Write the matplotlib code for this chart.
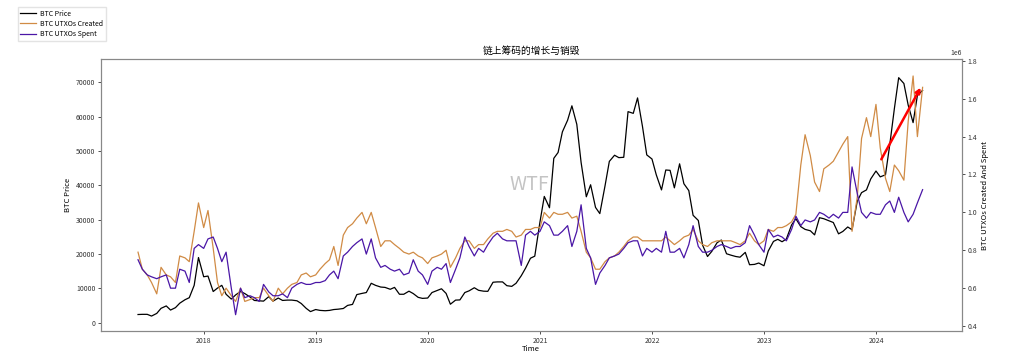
import numpy as np
import pandas as pd
import matplotlib
matplotlib.use("Agg")
import matplotlib.pyplot as plt
import matplotlib.dates as mdates

plt.rcParams['font.family'] = ['Noto Sans CJK SC', 'DejaVu Sans']
plt.rcParams['axes.unicode_minus'] = False

# semi-monthly samples, 2017-06-01 .. 2024-06-01
dates = pd.date_range('2017-06-01', '2024-06-01', freq='SMS')

btc_price = [
    # 2017
    2400, 2450, 2450, 1950, 2720, 4200, 4900, 3700, 4400, 5700, 6700, 7300, 10900, 19000,
    # 2018
    13400, 13600, 9100, 10100, 10900, 8300, 6900, 8100, 9100, 8500, 7500, 6500,
    6400, 6300, 7600, 6300, 7200, 6500, 6600, 6600, 6400, 5600, 4200, 3250,
    # 2019
    3850, 3600, 3500, 3600, 3850, 3950, 4150, 5050, 5350, 8200, 8550, 8800,
    11500, 10900, 10400, 10300, 9750, 10300, 8300, 8300, 9200, 8500, 7400, 7100,
    # 2020
    7200, 8800, 9400, 9900, 8550, 5400, 6600, 6650, 8800, 9300, 10200, 9450,
    9200, 9150, 11800, 11900, 11900, 10800, 10600, 11500, 13700, 15900, 18800, 19400,
    # 2021
    29400, 36800, 33500, 47900, 49600, 55600, 59000, 63200, 57800, 46700, 36700, 40200,
    33600, 31800, 39900, 47000, 48800, 48100, 48200, 61500, 61000, 65500, 57200, 48900,
    # 2022
    47700, 43100, 38700, 44500, 44400, 39300, 46300, 40500, 38500, 31300, 29800, 22600,
    19300, 20800, 23300, 24100, 20100, 19700, 19300, 19100, 20500, 16900, 17000, 17400,
    # 2023
    16600, 20900, 23700, 24300, 23600, 24400, 28500, 30300, 28000, 27200, 26800, 25600,
    30600, 30300, 29700, 29200, 25900, 26600, 27900, 27100, 35400, 37900, 38700, 41900,
    # 2024
    44200, 42500, 43100, 51900, 62400, 71400, 69700, 63400, 58300, 66200, 67700,
]

# UTXOs created, in millions
utxo_created = [
    # 2017
    0.79, 0.70, 0.67, 0.63, 0.57, 0.71, 0.67, 0.66, 0.63, 0.77, 0.76, 0.74, 0.90, 1.05,
    # 2018
    0.92, 1.01, 0.81, 0.63, 0.56, 0.60, 0.56, 0.53, 0.60, 0.53, 0.54, 0.55,
    0.55, 0.60, 0.56, 0.53, 0.60, 0.57, 0.60, 0.62, 0.63, 0.67, 0.68, 0.66,
    # 2019
    0.67, 0.70, 0.73, 0.75, 0.82, 0.72, 0.88, 0.92, 0.94, 0.97, 1.00, 0.94,
    1.00, 0.92, 0.82, 0.85, 0.85, 0.83, 0.81, 0.79, 0.78, 0.79, 0.77, 0.76,
    # 2020
    0.73, 0.76, 0.77, 0.78, 0.80, 0.71, 0.76, 0.81, 0.85, 0.85, 0.81, 0.83,
    0.83, 0.86, 0.89, 0.90, 0.90, 0.91, 0.90, 0.87, 0.88, 0.91, 0.91, 0.92,
    # 2021
    0.92, 1.00, 0.97, 1.00, 0.99, 0.99, 1.00, 0.97, 0.98, 0.90, 0.79, 0.76,
    0.70, 0.70, 0.74, 0.76, 0.77, 0.79, 0.82, 0.85, 0.87, 0.87, 0.85, 0.85,
    # 2022
    0.85, 0.85, 0.85, 0.87, 0.85, 0.83, 0.85, 0.87, 0.88, 0.91, 0.85, 0.83,
    0.82, 0.84, 0.85, 0.85, 0.85, 0.85, 0.84, 0.83, 0.85, 0.89, 0.85, 0.83,
    # 2023
    0.85, 0.91, 0.90, 0.92, 0.92, 0.93, 0.95, 0.99, 1.25, 1.41, 1.30, 1.16,
    1.11, 1.23, 1.25, 1.27, 1.32, 1.36, 1.40, 0.90, 1.08, 1.39, 1.50, 1.40,
    # 2024
    1.57, 1.34, 1.18, 1.11, 1.25, 1.22, 1.17, 1.48, 1.72, 1.40, 1.66,
]

# UTXOs spent, in millions
utxo_spent = [
    # 2017
    0.75, 0.70, 0.67, 0.66, 0.65, 0.66, 0.67, 0.60, 0.60, 0.70, 0.69, 0.63, 0.81, 0.83,
    # 2018
    0.81, 0.86, 0.87, 0.81, 0.74, 0.79, 0.60, 0.46, 0.60, 0.55, 0.56, 0.55,
    0.53, 0.62, 0.58, 0.56, 0.56, 0.57, 0.55, 0.60, 0.62, 0.63, 0.62, 0.62,
    # 2019
    0.63, 0.63, 0.64, 0.67, 0.69, 0.65, 0.77, 0.79, 0.82, 0.84, 0.86, 0.78,
    0.86, 0.76, 0.71, 0.72, 0.70, 0.69, 0.70, 0.67, 0.68, 0.75, 0.69, 0.67,
    # 2020
    0.62, 0.69, 0.71, 0.70, 0.73, 0.63, 0.70, 0.76, 0.87, 0.82, 0.77, 0.81,
    0.79, 0.83, 0.87, 0.89, 0.86, 0.85, 0.85, 0.85, 0.72, 0.88, 0.90, 0.88,
    # 2021
    0.90, 0.95, 0.93, 0.88, 0.88, 0.90, 0.93, 0.82, 0.90, 1.04, 0.81, 0.76,
    0.62, 0.68, 0.72, 0.76, 0.77, 0.78, 0.81, 0.84, 0.85, 0.85, 0.77, 0.81,
    # 2022
    0.79, 0.81, 0.79, 0.90, 0.79, 0.79, 0.81, 0.76, 0.83, 0.93, 0.82, 0.79,
    0.79, 0.80, 0.82, 0.83, 0.82, 0.81, 0.82, 0.82, 0.84, 0.93, 0.88, 0.83,
    # 2023
    0.79, 0.91, 0.87, 0.88, 0.87, 0.85, 0.91, 0.98, 0.93, 0.96, 0.95, 0.96,
    1.00, 0.99, 0.97, 0.99, 0.97, 1.00, 1.00, 1.24, 1.10, 1.00, 0.97, 1.00,
    # 2024
    0.99, 0.99, 1.04, 1.06, 1.00, 1.08, 1.00, 0.95, 0.99, 1.05, 1.12,
]

# trend arrow on the price axis (start -> end)
arrow_start = ('2024-01-14', 46900)
arrow_end = ('2024-05-30', 69200)

c_price = 'black'
c_created = '#d08b45'
c_spent = '#4a16a6'

fig = plt.figure(figsize=(10.09, 3.54), dpi=100)
ax1 = fig.add_axes([0.100, 0.065, 0.853, 0.768])
ax2 = ax1.twinx()

l1, = ax1.plot(dates, btc_price, color=c_price, lw=0.9, label='BTC Price')
l2, = ax2.plot(dates, np.array(utxo_created) * 1e6, color=c_created, lw=0.9,
               label='BTC UTXOs Created')
l3, = ax2.plot(dates, np.array(utxo_spent) * 1e6, color=c_spent, lw=0.9,
               label='BTC UTXOs Spent')

# arrow drawn in price coordinates but on top of everything
x0 = mdates.date2num(pd.Timestamp(arrow_start[0]))
x1 = mdates.date2num(pd.Timestamp(arrow_end[0]))
ax2.annotate('', xy=(x1, arrow_end[1]), xytext=(x0, arrow_start[1]),
             xycoords=ax1.transData, textcoords=ax1.transData,
             arrowprops=dict(arrowstyle='-|>', color='red', lw=1.8,
                             mutation_scale=7))

ax1.set_ylim(-2400, 76800)
ax2.set_ylim(0.374e6, 1.809e6)
ax1.set_xlim(pd.Timestamp('2017-01-31'), pd.Timestamp('2024-10-06'))

ax1.xaxis.set_major_locator(mdates.YearLocator())
ax1.xaxis.set_major_formatter(mdates.DateFormatter('%Y'))

tick_fs = 5
for ax in (ax1, ax2):
    ax.tick_params(labelsize=tick_fs, length=2.5, width=0.6, colors='#333333', pad=1.5)
    for s in ax.spines.values():
        s.set_color('#888888')
        s.set_linewidth(0.8)
ax2.yaxis.get_offset_text().set_fontsize(tick_fs)

ax1.set_title('链上筹码的增长与销毁', fontsize=7, pad=4)
ax1.set_xlabel('Time', fontsize=5.5, labelpad=0)
ax1.set_ylabel('BTC Price', fontsize=5.5, labelpad=3)
ax2.set_ylabel('BTC UTXOs Created And Spent', fontsize=5.5, labelpad=3)

ax1.text(0.498, 0.537, 'WTF', transform=ax1.transAxes, fontsize=14,
         color='#c4c4c4', ha='center', va='center', zorder=0)

fig.legend(handles=[l1, l2, l3], loc='upper left', bbox_to_anchor=(0.014, 0.99),
           fontsize=5, frameon=True, edgecolor='#dddddd', fancybox=False,
           handlelength=2.2, borderpad=0.4, labelspacing=0.3, handletextpad=0.6)

fig.savefig('out.png', dpi=100)
